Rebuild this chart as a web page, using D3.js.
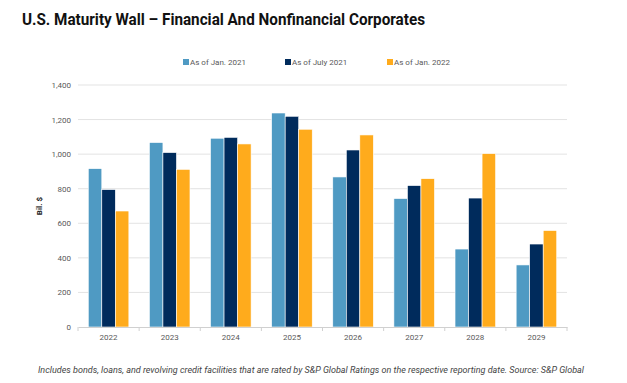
<!DOCTYPE html>
<html>
<head>
<meta charset="utf-8">
<script src="https://cdn.jsdelivr.net/npm/d3@7"></script>
<style>
  body { margin: 0; background: #fff; }
  svg text { font-family: Roboto, "Liberation Sans", sans-serif; }
</style>
</head>
<body>
<script>
(function() {

    const width = 627;
    const height = 383;

    // chart data
    const years = ["2022", "2023", "2024", "2025", "2026", "2027", "2028", "2029"];
    const seriesNames = ["As of Jan. 2021", "As of July 2021", "As of Jan. 2022"];
    const jan2021 = [916, 1067, 1092, 1238, 868, 743, 451, 359];
    const july2021 = [795, 1009, 1097, 1219, 1024, 818, 746, 480];
    const jan2022 = [671, 912, 1059, 1144, 1111, 858, 1003, 558];
    const yTicks = [0, 200, 400, 600, 800, 1000, 1200, 1400];
    const colors = ["#4F9AC3", "#002B5C", "#FFAB1C"];

    const margin = {top: 85, right: 60, bottom: 56, left: 78};

    let svg = d3.select("body").append("svg")
        .attr("width", width)
        .attr("height", height);

    // title
    svg.append("text")
        .attr("x", 22)
        .attr("y", 25)
        .attr("textLength", 403)
        .attr("lengthAdjust", "spacingAndGlyphs")
        .style("font-size", "16px")
        .style("font-weight", "bold")
        .style("fill", "#111")
        .text("U.S. Maturity Wall \u2013 Financial And Nonfinancial Corporates");

    let x0 = d3.scaleBand()
        .domain(years)
        .range([margin.left, width - margin.right]);

    let x1 = d3.scaleBand()
        .domain(seriesNames)
        .range([0, x0.bandwidth()])
        .paddingOuter(0.76);

    let y = d3.scaleLinear()
        .domain([0, 1400])
        .range([height - margin.bottom, margin.top]);

    // gridlines
    svg.append("g")
        .selectAll("line")
        .data(yTicks.slice(1))
        .enter()
        .append("line")
        .attr("x1", margin.left)
        .attr("x2", width - margin.right)
        .attr("y1", d => y(d))
        .attr("y2", d => y(d))
        .style("stroke", "#e3e3e3")
        .style("stroke-width", 1);

    // y axis
    let yAxis = svg.append("g")
        .attr("transform", "translate(" + margin.left + ",0)")
        .call(d3.axisLeft(y).tickValues(yTicks).tickSize(0).tickPadding(7).tickFormat(d3.format(",")));
    yAxis.select(".domain").remove();
    yAxis.selectAll("text")
        .style("font-size", "8px")
        .style("fill", "#595959");

    // bars
    const seriesValues = [jan2021, july2021, jan2022];
    seriesNames.forEach(function(name, s) {
        svg.append("g")
            .selectAll("rect")
            .data(years)
            .enter()
            .append("rect")
            .attr("x", d => x0(d) + x1(name))
            .attr("y", (d, i) => y(seriesValues[s][i]))
            .attr("width", x1.bandwidth())
            .attr("height", (d, i) => y(0) - y(seriesValues[s][i]))
            .style("fill", colors[s])
            .style("stroke", "#fff")
            .style("stroke-width", 0.6);
    });

    // x axis with ticks between categories
    let xAxis = svg.append("g")
        .attr("transform", "translate(0," + y(0) + ")")
        .call(d3.axisBottom(x0).tickSize(0).tickPadding(7));
    xAxis.select(".domain")
        .style("stroke", "#d0d0d0");
    xAxis.selectAll("text")
        .style("font-size", "8px")
        .style("fill", "#595959");
    xAxis.selectAll(".sep")
        .data(years.concat(["end"]))
        .enter()
        .append("line")
        .attr("class", "sep")
        .attr("x1", (d, i) => margin.left + i * x0.step())
        .attr("x2", (d, i) => margin.left + i * x0.step())
        .attr("y1", 0)
        .attr("y2", 4)
        .style("stroke", "#d0d0d0");

    // y axis title
    svg.append("text")
        .attr("transform", "translate(42," + (y(700)) + ") rotate(-90)")
        .attr("text-anchor", "middle")
        .style("font-size", "8px")
        .style("font-weight", "bold")
        .style("fill", "#222")
        .text("Bil. $");

    // legend
    const legendX = [183, 285, 387];
    let legend = svg.append("g")
        .selectAll("g")
        .data(seriesNames)
        .enter()
        .append("g")
        .attr("transform", (d, i) => "translate(" + legendX[i] + ",62)");

    legend.append("rect")
        .attr("x", 0)
        .attr("y", -3)
        .attr("width", 6)
        .attr("height", 6)
        .style("fill", (d, i) => colors[i]);

    legend.append("text")
        .attr("x", 7)
        .attr("y", 0)
        .attr("dy", ".35em")
        .style("font-size", "8px")
        .style("fill", "#595959")
        .text(d => d);

    // footnote
    svg.append("text")
        .attr("x", 38)
        .attr("y", 373)
        .attr("textLength", 546)
        .attr("lengthAdjust", "spacingAndGlyphs")
        .style("font-size", "9.5px")
        .style("font-style", "italic")
        .style("fill", "#444")
        .text("Includes bonds, loans, and revolving credit facilities that are rated by S&P Global Ratings on the respective reporting date. Source: S&P Global");

})();
</script>
</body>
</html>
